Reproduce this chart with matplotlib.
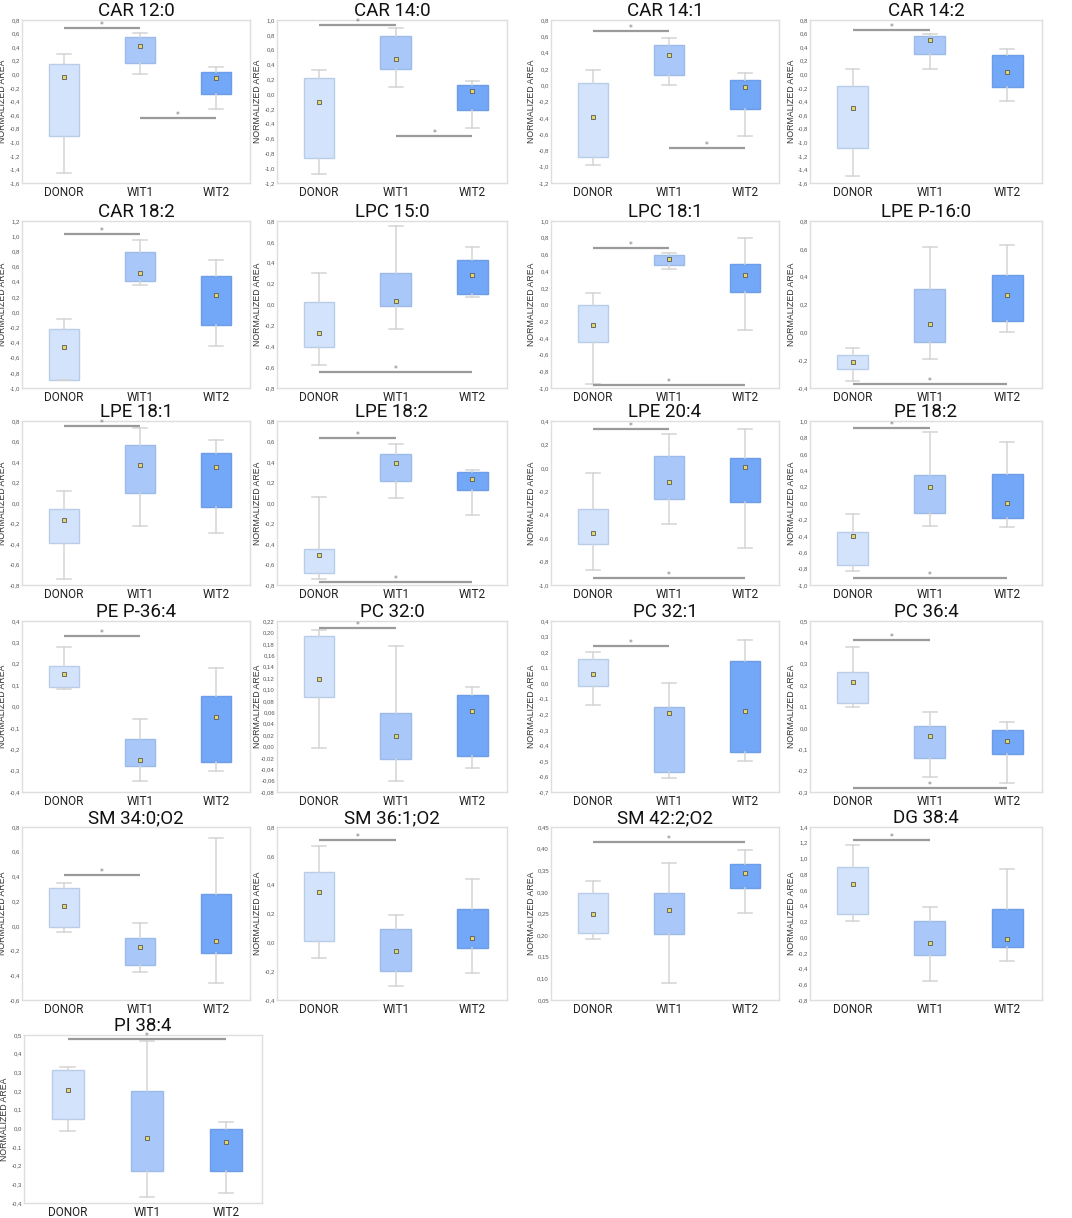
import numpy as np
import matplotlib
matplotlib.use("Agg")
import matplotlib.pyplot as plt
from matplotlib.ticker import FuncFormatter, MultipleLocator

# groups on the x axis
groups = ["DONOR", "WIT1", "WIT2"]

titles = ["CAR 12:0", "CAR 14:0", "CAR 14:1", "CAR 14:2",
          "CAR 18:2", "LPC 15:0", "LPC 18:1", "LPE P-16:0",
          "LPE 18:1", "LPE 18:2", "LPE 20:4", "PE 18:2",
          "PE P-36:4", "PC 32:0", "PC 32:1", "PC 36:4",
          "SM 34:0;O2", "SM 36:1;O2", "SM 42:2;O2", "DG 38:4",
          "PI 38:4"]

# per panel: [DONOR, WIT1, WIT2]
whisker_lo = [[-1.46, 0.01, -0.51], [-1.08, 0.10, -0.46], [-0.98, 0.00, -0.62], [-1.50, 0.08, -0.40],
              [-0.90, 0.36, -0.45], [-0.58, -0.23, 0.07], [-0.95, 0.43, -0.31], [-0.35, -0.19, 0.00],
              [-0.74, -0.22, -0.29], [-0.74, 0.05, -0.12], [-0.87, -0.48, -0.68], [-0.83, -0.28, -0.29],
              [0.08, -0.35, -0.30], [-0.002, -0.060, -0.038], [-0.14, -0.61, -0.50], [0.10, -0.23, -0.26],
              [-0.05, -0.37, -0.46], [-0.11, -0.30, -0.21], [0.192, 0.089, 0.252], [0.21, -0.56, -0.30],
              [-0.015, -0.37, -0.345]]
q1 = [[-0.91, 0.16, -0.29], [-0.86, 0.34, -0.22], [-0.88, 0.13, -0.29], [-1.09, 0.30, -0.18],
      [-0.90, 0.41, -0.17], [-0.41, -0.01, 0.10], [-0.45, 0.47, 0.15], [-0.26, -0.07, 0.08],
      [-0.39, 0.10, -0.04], [-0.68, 0.21, 0.13], [-0.65, -0.27, -0.29], [-0.75, -0.12, -0.18],
      [0.09, -0.28, -0.26], [0.087, -0.022, -0.016], [-0.02, -0.57, -0.44], [0.115, -0.14, -0.12],
      [-0.01, -0.32, -0.22], [0.01, -0.20, -0.04], [0.206, 0.202, 0.309], [0.29, -0.23, -0.13],
      [0.05, -0.226, -0.23]]
q3 = [[0.15, 0.55, 0.03], [0.22, 0.79, 0.12], [0.03, 0.49, 0.06], [-0.17, 0.57, 0.28],
      [-0.22, 0.79, 0.48], [0.02, 0.30, 0.43], [-0.01, 0.59, 0.48], [-0.16, 0.31, 0.41],
      [-0.06, 0.57, 0.49], [-0.45, 0.48, 0.30], [-0.35, 0.10, 0.08], [-0.35, 0.34, 0.35],
      [0.19, -0.15, 0.05], [0.193, 0.059, 0.090], [0.155, -0.15, 0.145], [0.26, 0.01, -0.01],
      [0.31, -0.10, 0.26], [0.49, 0.09, 0.23], [0.297, 0.298, 0.365], [0.89, 0.21, 0.36],
      [0.31, 0.20, -0.006]]
whisker_hi = [[0.30, 0.61, 0.11], [0.33, 0.89, 0.18], [0.19, 0.58, 0.15], [0.08, 0.60, 0.37],
              [-0.09, 0.95, 0.68], [0.30, 0.75, 0.55], [0.14, 0.62, 0.80], [-0.11, 0.61, 0.63],
              [0.12, 0.73, 0.61], [0.06, 0.58, 0.32], [-0.04, 0.29, 0.33], [-0.13, 0.87, 0.74],
              [0.28, -0.06, 0.18], [0.204, 0.176, 0.104], [0.20, 0.00, 0.28], [0.38, 0.076, 0.026],
              [0.35, 0.02, 0.71], [0.67, 0.19, 0.44], [0.325, 0.367, 0.396], [1.17, 0.38, 0.87],
              [0.33, 0.47, 0.035]]
means = [[-0.04, 0.41, -0.06], [-0.11, 0.48, 0.04], [-0.39, 0.37, -0.02], [-0.50, 0.50, 0.04],
         [-0.46, 0.52, 0.23], [-0.27, 0.03, 0.28], [-0.25, 0.54, 0.35], [-0.21, 0.06, 0.27],
         [-0.17, 0.37, 0.35], [-0.51, 0.39, 0.23], [-0.56, -0.12, 0.01], [-0.40, 0.20, 0.00],
         [0.15, -0.25, -0.05], [0.118, 0.019, 0.062], [0.06, -0.19, -0.18], [0.215, -0.04, -0.06],
         [0.16, -0.17, -0.12], [0.35, -0.06, 0.03], [0.250, 0.258, 0.343], [0.68, -0.07, -0.03],
         [0.205, -0.05, -0.074]]

# axis ranges and tick steps
y_min = [-1.6, -1.2, -1.2, -1.6, -1.0, -0.8, -1.0, -0.4, -0.8, -0.8, -1.0, -1.0,
         -0.4, -0.08, -0.7, -0.3, -0.6, -0.4, 0.05, -0.8, -0.4]
y_max = [0.8, 1.0, 0.8, 0.8, 1.2, 0.8, 1.0, 0.8, 0.8, 0.8, 0.4, 1.0,
         0.4, 0.22, 0.4, 0.5, 0.8, 0.8, 0.45, 1.4, 0.5]
y_step = [0.2, 0.2, 0.2, 0.2, 0.2, 0.2, 0.2, 0.2, 0.2, 0.2, 0.2, 0.2,
          0.1, 0.02, 0.1, 0.1, 0.2, 0.2, 0.05, 0.2, 0.1]
y_decimals = [1] * 13 + [2] + [1] * 4 + [2] + [1] * 2

# significance bars: (group a, group b, line height)
sig_bars = [[(0, 1, 0.68), (1, 2, -0.65)], [(0, 1, 0.93), (1, 2, -0.57)],
            [(0, 1, 0.66), (1, 2, -0.77)], [(0, 1, 0.66)],
            [(0, 1, 1.03)], [(0, 2, -0.65)], [(0, 1, 0.68), (0, 2, -0.97)], [(0, 2, -0.37)],
            [(0, 1, 0.75)], [(0, 1, 0.63), (0, 2, -0.77)], [(0, 1, 0.33), (0, 2, -0.94)],
            [(0, 1, 0.92), (0, 2, -0.91)],
            [(0, 1, 0.33)], [(0, 1, 0.208)], [(0, 1, 0.24)], [(0, 1, 0.41), (0, 2, -0.28)],
            [(0, 1, 0.41)], [(0, 1, 0.71)], [(0, 2, 0.415)], [(0, 1, 1.24)],
            [(0, 2, 0.477)]]

box_colors = ["#d3e3fb", "#a9c8f9", "#73a7f8"]
box_edges = ["#b9cdea", "#9dbbe8", "#6c9de6"]

W, H = 1072, 1218
col_left = [22, 277, 551, 810]
col_right = [250, 507, 779, 1042]
row_top = [20, 221, 421, 621, 827, 1035]
row_bottom = [183, 388, 585, 792, 1000, 1203]

fig = plt.figure(figsize=(W / 100, H / 100), dpi=100)
fig.patch.set_facecolor("white")

for i, title in enumerate(titles):
    r, c = divmod(i, 4)
    if r == 5:
        left, right = 24, 262
    else:
        left, right = col_left[c], col_right[c]
    ax = fig.add_axes([left / W, 1 - row_bottom[r] / H,
                       (right - left) / W, (row_bottom[r] - row_top[r]) / H])

    stats = []
    for g in range(3):
        stats.append({"whislo": whisker_lo[i][g], "q1": q1[i][g], "med": means[i][g],
                      "q3": q3[i][g], "whishi": whisker_hi[i][g], "mean": means[i][g],
                      "fliers": []})
    bp = ax.bxp(stats, positions=[0, 1, 2], widths=0.4, patch_artist=True,
                showmeans=True, showfliers=False,
                whiskerprops=dict(color="#d4d4d4", lw=1.1),
                capprops=dict(color="#d4d4d4", lw=1.1),
                medianprops=dict(lw=0),
                meanprops=dict(marker="s", markersize=3.2, markerfacecolor="#e2d86a",
                               markeredgecolor="#5a5a5a", markeredgewidth=0.6))
    for patch, fc, ec in zip(bp["boxes"], box_colors, box_edges):
        patch.set_facecolor(fc)
        patch.set_edgecolor(ec)
        patch.set_linewidth(1.0)
    for cap in bp["caps"]:
        x0, x1 = cap.get_xdata()
        xm = (x0 + x1) / 2
        cap.set_xdata([xm - 0.09, xm + 0.09])

    for a, b, yy in sig_bars[i]:
        ax.plot([a, b], [yy, yy], color="#9a9a9a", lw=1.6, solid_capstyle="butt", zorder=5)
        ax.text((a + b) / 2, yy, "*", ha="center", va="baseline",
                fontsize=5.5, color="#777777", zorder=5)

    ax.set_xlim(-0.55, 2.45)
    ax.set_ylim(y_min[i], y_max[i])
    ax.yaxis.set_major_locator(MultipleLocator(y_step[i]))
    d = y_decimals[i]
    ax.yaxis.set_major_formatter(FuncFormatter(
        lambda v, p, d=d: (f"{round(v, d) + 0.0:.{d}f}").replace(".", ",")))
    for lab in ax.get_yticklabels():
        lab.set_family("Liberation Sans")
    ax.set_xticks([0, 1, 2])
    ax.set_xticklabels(groups, fontsize=8.5, family="Roboto", color="#222222")
    ax.tick_params(axis="y", labelsize=4.3, labelcolor="#555555", length=0, pad=1.5)
    ax.tick_params(axis="x", length=0, pad=2)
    ax.set_ylabel("NORMALIZED AREA", fontsize=6.3, color="#333333", family="Liberation Sans")
    ax.yaxis.set_label_coords(-14.5 / (right - left), 0.5)
    ax.set_title(title, fontsize=13.5, family="Roboto", pad=1.5, color="#111111")
    for s in ax.spines.values():
        s.set_color("#dedede")
        s.set_linewidth(1.0)

fig.savefig("out.png", dpi=100, facecolor="white")
